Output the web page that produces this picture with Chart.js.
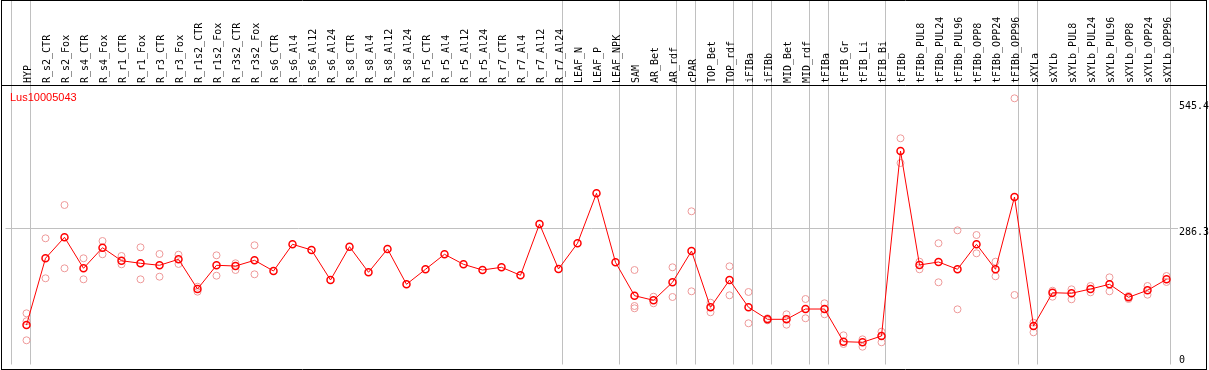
<!DOCTYPE html>
<html><head><meta charset="utf-8">
<script src="https://cdn.jsdelivr.net/npm/chart.js@4/dist/chart.umd.min.js"></script>
<style>html,body{margin:0;padding:0;background:#fff;overflow:hidden}canvas{display:block}</style>
</head><body>
<canvas id="c" width="1209" height="370"></canvas>
<script>
const geneName = 'Lus10005043';
const categories = ['HYP','R_s2_CTR','R_s2_Fox','R_s4_CTR','R_s4_Fox','R_r1_CTR','R_r1_Fox','R_r3_CTR','R_r3_Fox','R_r1s2_CTR','R_r1s2_Fox','R_r3s2_CTR','R_r3s2_Fox','R_s6_CTR','R_s6_Al4','R_s6_Al12','R_s6_Al24','R_s8_CTR','R_s8_Al4','R_s8_Al12','R_s8_Al24','R_r5_CTR','R_r5_Al4','R_r5_Al12','R_r5_Al24','R_r7_CTR','R_r7_Al4','R_r7_Al12','R_r7_Al24','LEAF_N','LEAF_P','LEAF_NPK','SAM','AR_Bet','AR_rdf','cPAR','TOP_Bet','TOP_rdf','iFIBa','iFIBb','MID_Bet','MID_rdf','tFIBa','tFIB_Gr','tFIB_Li','tFIB_Bi','tFIBb','tFIBb_PUL8','tFIBb_PUL24','tFIBb_PUL96','tFIBb_OPP8','tFIBb_OPP24','tFIBb_OPP96','sXYLa','sXYLb','sXYLb_PUL8','sXYLb_PUL24','sXYLb_PUL96','sXYLb_OPP8','sXYLb_OPP24','sXYLb_OPP96'];
const meanValues = [88.3,225.3,268.4,204.7,247.0,220.3,215.0,210.9,223.2,162.2,210.9,209.4,221.1,199.2,254.0,242.3,180.7,249.1,196.5,244.4,171.9,202.7,233.5,212.9,201.2,206.8,190.3,295.7,203.3,256.1,358.7,217.0,148.5,139.0,176.0,240.2,124.6,180.7,124.6,100.0,100.0,121.1,121.1,54.0,52.8,65.7,445.6,211.5,217.7,202.7,254.0,202.7,351.1,86.2,154.6,153.4,162.2,171.9,145.2,159.5,182.1];
const rep1 = [112.3,266.3,334.7,225.3,260.8,230.0,247.8,234.1,232.6,166.9,231.4,215.0,252.0,null,null,null,null,null,null,null,null,null,null,null,null,null,null,null,null,null,null,null,201.2,146.4,206.8,321.8,134.1,208.8,156.1,102.1,110.3,141.7,132.9,67.1,58.9,74.5,471.7,218.3,256.1,282.7,273.1,218.3,553.8,93.0,158.7,161.6,168.4,186.2,147.8,168.4,188.9];
const rep2 = [56.9,184.2,204.7,182.1,233.5,212.9,182.1,187.5,213.6,156.7,189.5,201.2,192.4,null,null,null,null,null,null,null,null,null,null,null,null,null,null,null,null,null,null,null,127.3,132.9,145.8,157.5,114.4,149.3,91.8,97.9,88.9,102.1,110.3,49.3,43.7,52.8,420.9,202.7,176.0,120.5,235.5,188.3,149.9,73.3,146.4,141.1,155.4,157.5,141.7,150.5,176.6];
const rep3 = [96.0,null,null,null,null,null,null,null,null,null,null,null,null,null,null,null,null,null,null,null,null,null,null,null,null,null,null,null,null,null,null,null,122.6,null,null,null,null,null,null,null,null,null,null,null,null,null,null,null,null,null,null,null,null,null,null,null,null,null,null,null,null];
const groupBoundaries = [-1, 0, 28, 31, 34, 35, 37, 38, 39, 41, 42, 45, 52, 53, 60];
const yTicks = [0, 286.3, 545.4];

const GRID = '#c0c0c0';
const CLEAR = 'rgba(0,0,0,0)';
const boundaryTicks = groupBoundaries.map(b => b + 0.21);
const isBoundary = c => c.tick && !Number.isInteger(c.tick.value);

// Fit scale ranges to the reference geometry (first category at x=26.5, 19px pitch; zero at y=368, 0.487px per unit)
const rangePlugin = {
  id: 'range',
  afterLayout(chart) {
    const a = chart.chartArea;
    const x = chart.scales.x, y = chart.scales.y;
    x.min = (a.left - 26.5) / 19; x.max = (a.right - 26.5) / 19; x.configure();
    y.min = (368 - a.bottom) / 0.487; y.max = (368 - a.top) / 0.487; y.configure();
  }
};

const framePlugin = {
  id: 'frame',
  afterDraw(chart) {
    const {ctx, chartArea, width, height} = chart;
    ctx.save();
    ctx.strokeStyle = '#000';
    ctx.lineWidth = 1;
    ctx.beginPath();
    ctx.moveTo(1, 0.5); ctx.lineTo(width - 2, 0.5);
    ctx.moveTo(1, chartArea.top + 0.5); ctx.lineTo(width - 2, chartArea.top + 0.5);
    ctx.moveTo(1, height - 0.5); ctx.lineTo(width - 2, height - 0.5);
    ctx.moveTo(1.5, 0); ctx.lineTo(1.5, height);
    ctx.moveTo(width - 2.5, 0); ctx.lineTo(width - 2.5, height);
    ctx.stroke();
    ctx.font = '11px "Liberation Sans"';
    ctx.fillStyle = '#ff0000';
    ctx.textBaseline = 'alphabetic';
    ctx.textAlign = 'left';
    ctx.fillText(geneName, 10, chartArea.top + 16);
    ctx.restore();
  }
};

const repSets = [rep1, rep2, rep3].map((r, k) => ({
  label: 'rep' + (k + 1),
  data: r.map((v, i) => v == null ? null : {x: i, y: v}).filter(Boolean),
  showLine: false,
  pointRadius: 3.5,
  pointBorderWidth: 1,
  pointBorderColor: '#ee9999',
  pointBackgroundColor: CLEAR,
  borderColor: '#ee9999',
  order: 2
}));

new Chart(document.getElementById('c'), {
  type: 'line',
  data: {
    datasets: [{
      label: geneName,
      data: meanValues.map((v, i) => ({x: i, y: v})),
      borderColor: '#ff0000',
      borderWidth: 1,
      pointRadius: 3.5,
      pointBorderWidth: 1.5,
      pointBorderColor: '#ff0000',
      pointBackgroundColor: CLEAR,
      tension: 0,
      order: 1
    }, ...repSets]
  },
  options: {
    responsive: false,
    devicePixelRatio: 1,
    animation: false,
    events: [],
    layout: {padding: {left: 2, right: 0, top: 0, bottom: 2}},
    scales: {
      x: {
        type: 'linear', position: 'top', min: -1.2895, max: 60.6053,
        afterBuildTicks: s => {
          s.ticks = [...boundaryTicks, ...categories.map((_, i) => i)].sort((a, b) => a - b).map(v => ({value: v}));
        },
        afterFit: s => { s.height = 85; s.paddingLeft = 0; s.paddingRight = 0; },
        ticks: {
          autoSkip: false, minRotation: 90, maxRotation: 90, padding: -83, labelOffset: 14,
          font: {family: 'DejaVu Sans Mono', size: 10}, color: '#000',
          callback: v => Number.isInteger(v) ? categories[v] : ''
        },
        grid: {
          drawTicks: true, tickLength: 85,
          color: c => isBoundary(c) ? GRID : CLEAR,
          tickColor: c => isBoundary(c) ? GRID : CLEAR,
          lineWidth: 1, tickWidth: 1
        },
        border: {display: false}
      },
      y: {
        type: 'linear', position: 'right', min: 0, max: 581.1,
        afterBuildTicks: s => { s.ticks = yTicks.map(v => ({value: v})); },
        afterFit: s => { s.width = 31; s.paddingTop = 0; s.paddingBottom = 0; },
        ticks: {
          padding: 1, labelOffset: 4,
          font: {family: 'DejaVu Sans Mono', size: 10}, color: '#000',
          callback: v => v === 0 ? ['0', '', ''] : String(v)
        },
        grid: {
          drawTicks: false,
          color: c => (c.tick && c.tick.value > yTicks[0] && c.tick.value < yTicks[yTicks.length - 1]) ? GRID : CLEAR
        },
        border: {display: false}
      }
    },
    plugins: {
      legend: {display: false},
      tooltip: {enabled: false}
    }
  },
  plugins: [rangePlugin, framePlugin]
});
</script>
</body></html>
